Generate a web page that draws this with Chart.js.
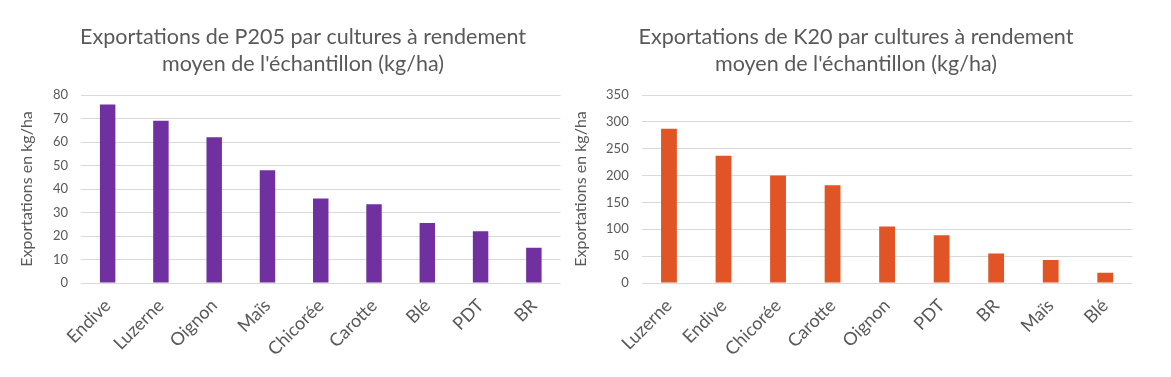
<!DOCTYPE html>
<html>
<head>
<meta charset="utf-8">
<script src="https://cdn.jsdelivr.net/npm/chart.js@4"></script>
<style>
  body { margin: 0; background: #fff; width: 1171px; height: 377px; overflow: hidden; position: relative; }
  canvas { position: absolute; top: 0; }
  #chartP { left: 0; }
  #chartK { left: 541px; }
</style>
</head>
<body>
<canvas id="chartP" width="606" height="377"></canvas>
<canvas id="chartK" width="630" height="377"></canvas>
<script>
// P2O5 chart data
const culturesP = ['Endive', 'Luzerne', 'Oignon', 'Maïs', 'Chicorée', 'Carotte', 'Blé', 'PDT', 'BR'];
const exportP = [76, 69, 62, 48, 36, 33.5, 25.5, 22, 15];
const titleP = ['Exportations de P205 par cultures à rendement', "moyen de l'échantillon (kg/ha)"];

// K2O chart data
const culturesK = ['Luzerne', 'Endive', 'Chicorée', 'Carotte', 'Oignon', 'PDT', 'BR', 'Maïs', 'Blé'];
const exportK = [287, 237, 200, 182, 105, 89, 55, 43, 19];
const titleK = ['Exportations de K20 par cultures à rendement', "moyen de l'échantillon (kg/ha)"];

const yTitle = 'Exportations en kg/ha';
const grey = '#595959';
const gridColor = '#D9D9D9';
const fontFamily = 'Lato, "Open Sans", sans-serif';

function makeChart(canvasId, labels, values, color, yMax, yStep, title, padLeft, axisWidth, padRight, yTitleShift) {
    const ctx = document.getElementById(canvasId).getContext('2d');
    return new Chart(ctx, {
        type: 'bar',
        data: {
            labels: labels,
            datasets: [{
                data: values,
                backgroundColor: color,
                borderWidth: 0,
                categoryPercentage: 1,
                barPercentage: 0.29
            }]
        },
        options: {
            responsive: false,
            animation: false,
            layout: { padding: { left: padLeft, right: padRight, top: 0, bottom: 0 } },
            plugins: {
                legend: { display: false },
                tooltip: { enabled: false },
                title: {
                    display: true,
                    text: title,
                    color: grey,
                    font: { family: fontFamily, size: 21.5, weight: 'normal', lineHeight: 1.256 },
                    padding: { top: 24, bottom: 17 }
                }
            },
            scales: {
                x: {
                    grid: { display: false },
                    border: { display: false },
                    ticks: {
                        color: grey,
                        font: { family: fontFamily, size: 18 },
                        minRotation: 45,
                        maxRotation: 45,
                        padding: 4
                    },
                    afterFit: scale => { scale.height = 94; }
                },
                y: {
                    min: 0,
                    max: yMax,
                    grid: { color: gridColor, drawTicks: false },
                    border: { display: false },
                    ticks: {
                        stepSize: yStep,
                        color: grey,
                        font: { family: fontFamily, size: 13 },
                        padding: 13
                    },
                    title: {
                        display: true,
                        text: yTitle,
                        color: grey,
                        font: { family: fontFamily, size: 16, lineHeight: 1.2 },
                        padding: { top: yTitleShift, bottom: 0 }
                    },
                    afterFit: scale => { scale.width = axisWidth; }
                }
            }
        }
    });
}

makeChart('chartP', culturesP, exportP, '#7030A0', 80, 10, titleP, 45.5, 35.5, 45.5, -28.1);
makeChart('chartK', culturesK, exportK, '#E15425', 350, 50, titleK, 38.5, 62.2, 38.5, -8.1);
</script>
</body>
</html>
